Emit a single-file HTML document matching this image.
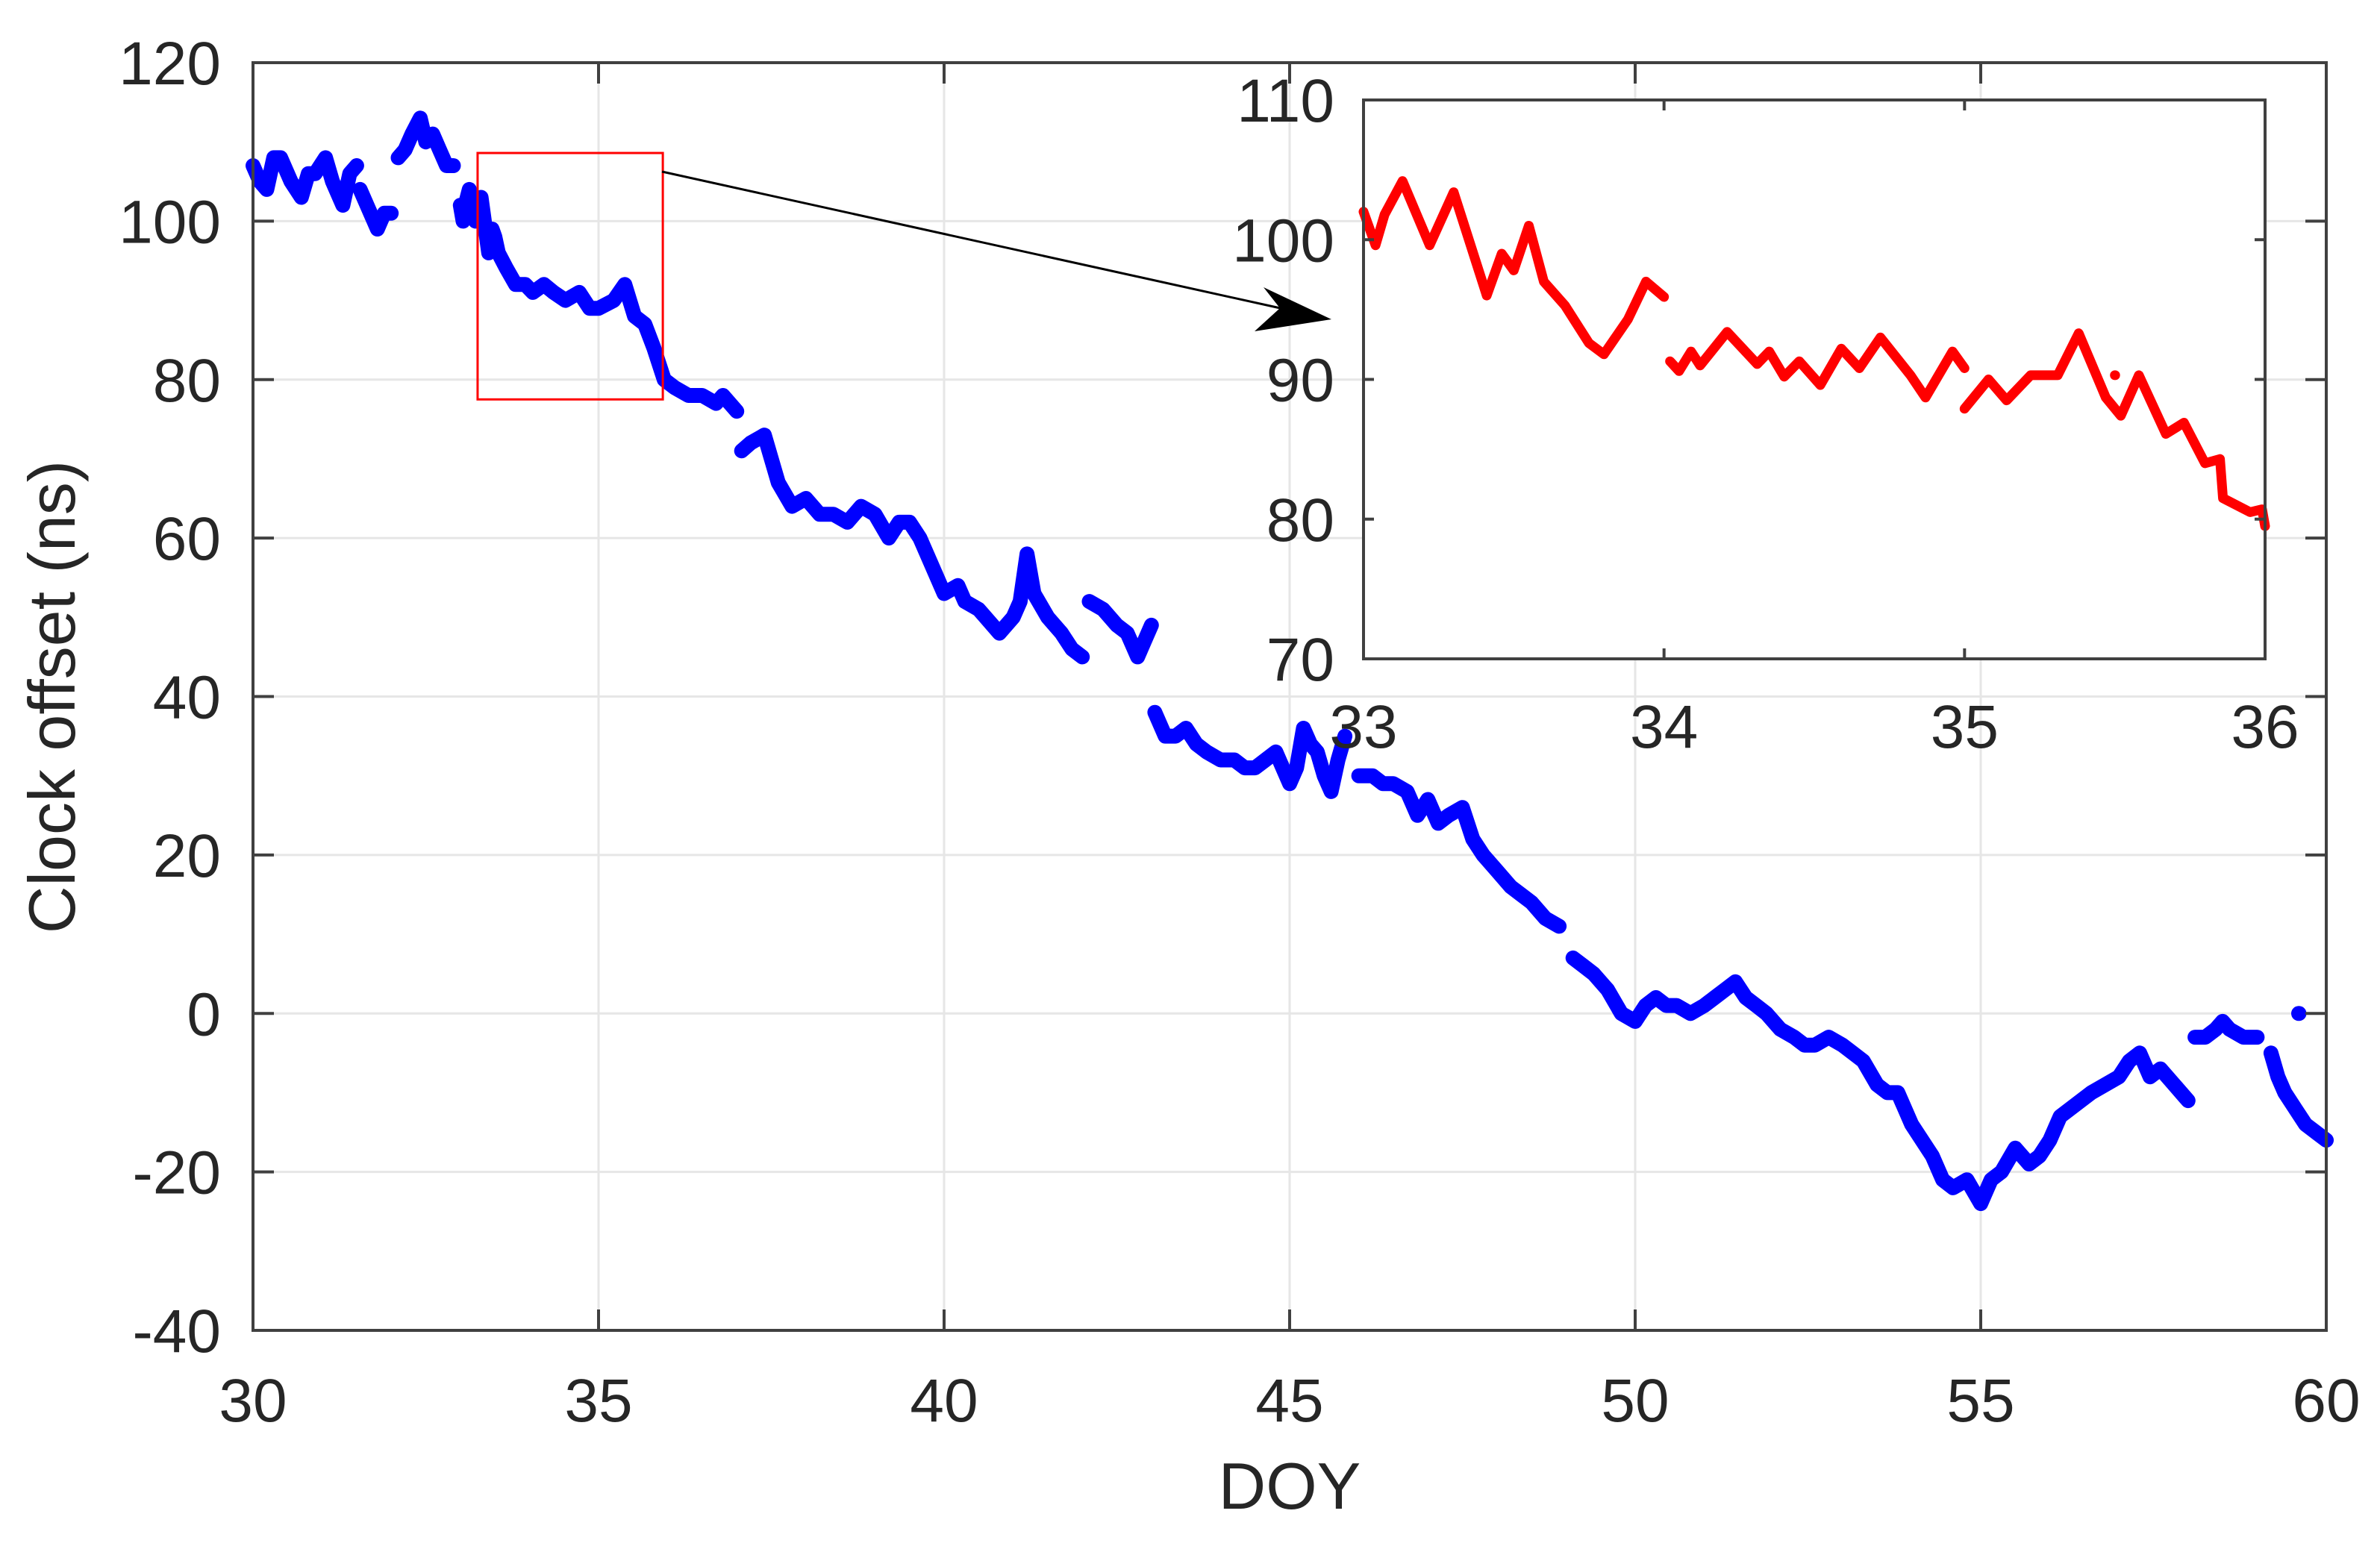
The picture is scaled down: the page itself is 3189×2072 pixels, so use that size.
<!DOCTYPE html>
<html><head><meta charset="utf-8"><style>
html,body{margin:0;padding:0;background:#fff;}
svg{display:block;}
text{font-family:"Liberation Sans",Arial,sans-serif;fill:#262626;}
</style></head><body>
<svg id="chart" width="3189" height="2072" viewBox="0 0 3189 2072" xmlns="http://www.w3.org/2000/svg">
<rect width="3189" height="2072" fill="#fff"/>
<g id="main"></g>
<g id="inset"></g>
<text x="1728" y="2022" font-size="88" text-anchor="middle">DOY</text>
<text transform="translate(100,934) rotate(-90)" font-size="88" text-anchor="middle">Clock offset (ns)</text>
</svg>
<script>
const xTicks=[30,35,40,45,50,55,60];
const yTicks=[-40,-20,0,20,40,60,80,100,120];
const insetXTicks=[33,34,35,36];
const insetYTicks=[70,80,90,100,110];
const blueSegments=[
 [[30,107],[30.1,105],[30.2,104],[30.3,108],[30.4,108],[30.55,105],[30.7,103],[30.8,106],[30.9,106],[31.05,108],[31.15,105],[31.3,102],[31.4,106],[31.5,107]],
 [[31.55,104],[31.7,101],[31.8,99],[31.9,101],[32.0,101]],
 [[32.1,108],[32.2,109],[32.3,111],[32.42,113],[32.5,110],[32.6,111],[32.7,109],[32.8,107],[32.9,107]],
 [[33.0,102],[33.04,100],[33.07,102],[33.13,104],[33.22,100],[33.3,103],[33.41,96],[33.46,99],[33.5,98],[33.55,96],[33.67,94],[33.8,92],[33.94,92],[34.05,91],[34.21,92],[34.35,91],[34.52,90],[34.72,91],[34.87,89],[35.0,89],[35.22,90],[35.38,92],[35.52,88],[35.67,87],[35.8,84],[35.95,80],[36.1,79],[36.3,78],[36.5,78],[36.7,77],[36.8,78],[37.0,76]],
 [[37.07,71],[37.2,72],[37.4,73],[37.6,67],[37.8,64],[38.0,65],[38.2,63],[38.4,63],[38.6,62],[38.8,64],[39.0,63],[39.2,60],[39.35,62],[39.5,62],[39.65,60],[39.8,57],[40.0,53],[40.2,54],[40.3,52],[40.5,51],[40.6,50],[40.8,48],[41.0,50],[41.1,52],[41.2,58],[41.3,53],[41.5,50],[41.7,48],[41.85,46],[42.0,45]],
 [[42.1,52],[42.3,51],[42.5,49],[42.65,48],[42.8,45],[42.9,47],[43.0,49]],
 [[43.05,38],[43.2,35],[43.35,35],[43.5,36],[43.65,34],[43.8,33],[44.0,32],[44.2,32],[44.35,31],[44.5,31],[44.65,32],[44.8,33],[45.0,29],[45.1,31],[45.2,36],[45.3,34],[45.4,33],[45.5,30],[45.6,28],[45.7,32],[45.8,35]],
 [[46.0,30],[46.2,30],[46.35,29],[46.5,29],[46.7,28],[46.85,25],[47.0,27],[47.15,24],[47.3,25],[47.5,26],[47.65,22],[47.8,20],[48.0,18],[48.2,16],[48.35,15],[48.5,14],[48.7,12],[48.9,11]],
 [[49.1,7],[49.25,6],[49.4,5],[49.6,3],[49.8,0],[50.0,-1],[50.15,1],[50.3,2],[50.45,1],[50.6,1],[50.8,0],[51.0,1],[51.15,2],[51.3,3],[51.45,4],[51.6,2],[51.75,1],[51.9,0],[52.1,-2],[52.3,-3],[52.45,-4],[52.6,-4],[52.8,-3],[53.0,-4],[53.15,-5],[53.3,-6],[53.5,-9],[53.65,-10],[53.8,-10],[54.0,-14],[54.15,-16],[54.3,-18],[54.45,-21],[54.6,-22],[54.8,-21],[55.0,-24],[55.15,-21],[55.3,-20],[55.5,-17],[55.7,-19],[55.85,-18],[56.0,-16],[56.15,-13],[56.3,-12],[56.45,-11],[56.6,-10],[56.8,-9],[57.0,-8],[57.15,-6],[57.3,-5],[57.45,-8],[57.6,-7],[57.8,-9],[58.0,-11]],
 [[58.1,-3],[58.25,-3],[58.4,-2],[58.5,-1],[58.6,-2],[58.8,-3],[59.0,-3]],
 [[59.2,-5],[59.3,-8],[59.4,-10],[59.55,-12],[59.7,-14],[59.85,-15],[60.0,-16]],
 [[59.6,0]]
];
const redSegments=[
 [[33.0,102],[33.04,99.6],[33.07,101.8],[33.13,104.2],[33.22,99.6],[33.3,103.4],[33.41,96],[33.46,99],[33.5,97.8],[33.55,101],[33.6,97],[33.67,95.3],[33.75,92.6],[33.8,91.8],[33.88,94.3],[33.94,97],[34.0,95.9]],
 [[34.02,91.3],[34.05,90.6],[34.09,92],[34.12,91],[34.21,93.4],[34.31,91.1],[34.35,92],[34.4,90.2],[34.45,91.3],[34.52,89.6],[34.59,92.2],[34.65,90.8],[34.72,93],[34.82,90.3],[34.87,88.7],[34.96,92],[35.0,90.8]],
 [[35.0,87.9],[35.08,90],[35.14,88.5],[35.22,90.3],[35.31,90.3],[35.38,93.3],[35.47,88.7],[35.52,87.4],[35.58,90.3],[35.67,86.1],[35.73,86.9],[35.8,84],[35.85,84.3],[35.86,81.5],[35.95,80.5],[35.99,80.7],[36.0,79.5]],
 [[35.5,90.3]]
];
const NS='http://www.w3.org/2000/svg';
function mk(tag,attrs,parent){const e=document.createElementNS(NS,tag);for(const k in attrs)e.setAttribute(k,attrs[k]);parent.appendChild(e);return e;}
const L=339,R=3117,T=84,B=1783;
const sx=d=>L+(d-30)/30*(R-L);
const sy=v=>T+(120-v)/160*(B-T);
const main=document.getElementById('main');
xTicks.forEach(t=>{const g=mk('line',{x1:sx(t),x2:sx(t),y1:T,y2:B,stroke:'#e6e6e6','stroke-width':3},main);});
yTicks.forEach(t=>{const g=mk('line',{x1:L,x2:R,y1:sy(t),y2:sy(t),stroke:'#e6e6e6','stroke-width':3},main);});
blueSegments.forEach(seg=>{
  const pts=seg.map(p=>sx(p[0]).toFixed(1)+','+sy(p[1]).toFixed(1));
  if(seg.length===1)pts.push((sx(seg[0][0])+0.5).toFixed(1)+','+sy(seg[0][1]).toFixed(1));
  const pl=mk('polyline',{points:pts.join(' '),fill:'none',stroke:'#0000ff','stroke-width':20,'stroke-linejoin':'round','stroke-linecap':'round'},main);
  
  
});
const frame=mk('rect',{x:L,y:T,width:R-L,height:B-T,fill:'none',stroke:'#404040','stroke-width':4},main);

xTicks.forEach(t=>{
  mk('line',{x1:sx(t),x2:sx(t),y1:B,y2:B-28,stroke:'#404040','stroke-width':4},main);
  mk('line',{x1:sx(t),x2:sx(t),y1:T,y2:T+28,stroke:'#404040','stroke-width':4},main);
  const tx=mk('text',{x:sx(t),y:1905,'font-size':82,'text-anchor':'middle'},main);tx.textContent=t;
  
});
yTicks.forEach(t=>{
  mk('line',{x1:L,x2:L+28,y1:sy(t),y2:sy(t),stroke:'#404040','stroke-width':4},main);
  mk('line',{x1:R,x2:R-28,y1:sy(t),y2:sy(t),stroke:'#404040','stroke-width':4},main);
  const tx=mk('text',{x:296,y:sy(t)+29,'font-size':82,'text-anchor':'end'},main);tx.textContent=t;
  
});
const zb=mk('rect',{x:sx(33.25),y:sy(108.6),width:sx(35.93)-sx(33.25),height:sy(77.5)-sy(108.6),fill:'none',stroke:'#ff0000','stroke-width':3},main);

const ar=mk('line',{x1:887,y1:230,x2:1720,y2:414,stroke:'#000','stroke-width':3},main);

const ah=mk('polygon',{points:'1784,428 1693,385 1715,413 1681,444',fill:'#000'},main);

const IL=1827,IR=3035,IT=134,IB=883;
const ix=d=>IL+(d-33)/3*(IR-IL);
const iy=v=>IT+(110-v)/40*(IB-IT);
const inset=document.getElementById('inset');
const ibg=mk('rect',{x:IL,y:IT,width:IR-IL,height:IB-IT,fill:'#fff'},inset);

redSegments.forEach(seg=>{
  const pts=seg.map(p=>ix(p[0]).toFixed(1)+','+iy(p[1]).toFixed(1));
  if(seg.length===1)pts.push((ix(seg[0][0])+0.5).toFixed(1)+','+iy(seg[0][1]).toFixed(1));
  const pl=mk('polyline',{points:pts.join(' '),fill:'none',stroke:'#ff0000','stroke-width':13,'stroke-linejoin':'round','stroke-linecap':'round'},inset);
  
  
});
const iframe=mk('rect',{x:IL,y:IT,width:IR-IL,height:IB-IT,fill:'none',stroke:'#404040','stroke-width':4},inset);

insetXTicks.forEach(t=>{
  mk('line',{x1:ix(t),x2:ix(t),y1:IB,y2:IB-14,stroke:'#404040','stroke-width':4},inset);
  mk('line',{x1:ix(t),x2:ix(t),y1:IT,y2:IT+14,stroke:'#404040','stroke-width':4},inset);
  const tx=mk('text',{x:ix(t),y:1002,'font-size':82,'text-anchor':'middle'},inset);tx.textContent=t;
  
});
insetYTicks.forEach(t=>{
  mk('line',{x1:IL,x2:IL+14,y1:iy(t),y2:iy(t),stroke:'#404040','stroke-width':4},inset);
  mk('line',{x1:IR,x2:IR-14,y1:iy(t),y2:iy(t),stroke:'#404040','stroke-width':4},inset);
  const tx=mk('text',{x:1788,y:iy(t)+29,'font-size':82,'text-anchor':'end'},inset);tx.textContent=t;
  
});
</script>
</body></html>
